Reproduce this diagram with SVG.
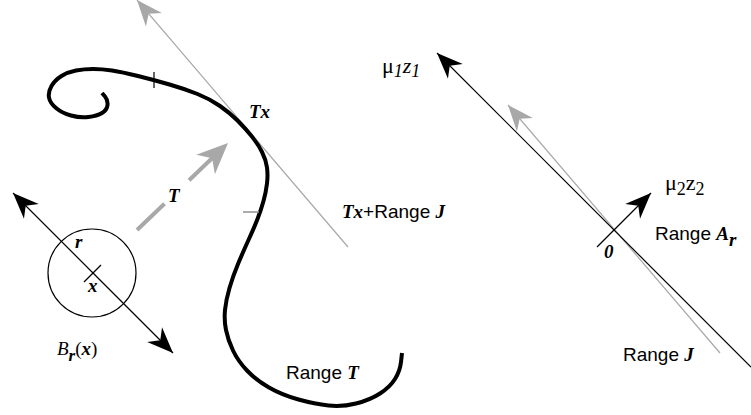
<svg xmlns="http://www.w3.org/2000/svg" width="751" height="415" viewBox="0 0 751 415">
<style>
.bl{stroke:#000;stroke-width:1.2;fill:none}
.gr{stroke:#a8a8a8;stroke-width:1.2;fill:none}
.curve{stroke:#000;stroke-width:4;fill:none;stroke-linejoin:round}
.sans{font-family:"Liberation Sans",Arial,sans-serif;font-size:19px;fill:#000}
.ser{font-family:"Liberation Serif","Times New Roman",serif;font-size:19px;fill:#000}
.mu{font-family:"Liberation Serif","Times New Roman",serif;font-size:22px;fill:#000}
.bi{font-weight:bold;font-style:italic}
.it{font-style:italic}
</style>
<defs>
<marker id="ab" markerUnits="userSpaceOnUse" viewBox="-30 -15 32 30" markerWidth="32" markerHeight="30" refX="0" refY="0" orient="auto" overflow="visible">
<path d="M0,0 L-26,-10.5 L-18,0 L-26,10.5 Z" fill="#000"/>
</marker>
<marker id="ag" markerUnits="userSpaceOnUse" viewBox="-30 -15 32 30" markerWidth="32" markerHeight="30" refX="0" refY="0" orient="auto" overflow="visible">
<path d="M0,0 L-26,-10.5 L-18,0 L-26,10.5 Z" fill="#a8a8a8"/>
</marker>
<marker id="agbig" markerUnits="userSpaceOnUse" viewBox="-40 -20 42 40" markerWidth="42" markerHeight="40" refX="0" refY="0" orient="auto" overflow="visible">
<path d="M0,0 L-31,-13.5 L-22,0 L-31,13.5 Z" fill="#a8a8a8"/>
</marker>
</defs>

<g id="connectors">
<line id="tangent" class="gr" x1="348" y1="247" x2="137" y2="0" marker-end="url(#ag)"/>
<line id="rangeJ" class="gr" x1="720" y1="353" x2="508" y2="105" marker-end="url(#ag)"/>
<line id="mu1" class="bl" x1="751" y1="367" x2="437" y2="53" marker-end="url(#ab)"/>
<line id="mu2" class="bl" x1="597" y1="247" x2="651" y2="193" marker-end="url(#ab)"/>
<line id="ballAxisUp" class="bl" x1="93" y1="273" x2="13" y2="193" marker-end="url(#ab)"/>
<line id="ballAxisDown" class="bl" x1="93" y1="273" x2="173" y2="353" marker-end="url(#ab)"/>
<line id="mapT" x1="137" y1="230" x2="228" y2="143" stroke="#a8a8a8" stroke-width="4" stroke-dasharray="38 34" marker-end="url(#agbig)"/>
</g>

<g id="rangeT">
<path class="curve" d="M102,93 L105,96.5 Q108,100 107.5,105 Q107,110 102,113 Q97,116 88.5,117 Q80,118 71,115.5 Q62,113 56,108 Q50,103 49,97.5 Q48,92 51.5,86 Q55,80 61.5,76 Q68,72 76,70.5 Q84,69 93,69 Q102,69 112,70.5 Q122,72 138,76 Q154,80 169.5,84.5 Q185,89 197.5,94 Q210,99 220,106 Q230,113 237.5,120.5 Q245,128 251.5,136 Q258,144 262,152 Q266,160 267,167.5 Q268,175 267,183.5 Q266,192 263.5,201 Q261,210 257.5,219 Q254,228 248.5,240 Q243,252 238,264 Q233,276 229.5,288 Q226,300 225,310 Q224,320 226,330 Q228,340 233,350.5 Q238,361 247,370.5 Q256,380 269,387.5 Q282,395 298.5,399.5 Q315,404 328.5,405.5 Q342,407 356,403.5 Q370,400 380,393.5 Q390,387 395,379 Q400,371 401,362 L402,353"/>
<line class="bl" x1="154" y1="72" x2="154" y2="88"/>
<line x1="243" y1="212" x2="259" y2="212" stroke="#909090" stroke-width="1.5"/>
<text class="sans" x="286" y="379">Range <tspan class="ser bi">T</tspan></text>
</g>

<g id="Tx">
<text class="ser bi" x="249" y="118">Tx</text>
</g>

<g id="TxRangeJ">
<text class="ser bi" x="342" y="218">Tx<tspan class="sans" font-style="normal" font-weight="normal">+Range </tspan><tspan>J</tspan></text>
</g>

<g id="labelT">
<text class="ser bi" x="168" y="202">T</text>
</g>

<g id="ball">
<circle cx="92" cy="273" r="44" class="bl"/>
<line class="bl" x1="84" y1="282" x2="101" y2="265"/>
<text class="ser bi" x="75" y="248">r</text>
<text class="ser bi" x="88" y="292">x</text>
<text class="ser" x="57" y="355" font-size="20"><tspan class="it">B</tspan><tspan class="bi" dy="6" font-size="17">r</tspan><tspan dy="-6">(</tspan><tspan class="bi">x</tspan>)</text>
</g>

<g id="mu1z1">
<text class="mu" x="382" y="73">μ<tspan class="it" dy="4" font-size="18">1</tspan><tspan class="it" dy="-4">z</tspan><tspan class="it" dy="4" font-size="18">1</tspan></text>
</g>

<g id="origin">
<text class="ser bi" x="604" y="258">0</text>
</g>

<g id="mu2z2">
<text class="mu" x="665" y="190">μ<tspan dy="5" font-size="18">2</tspan><tspan dy="-5">z</tspan><tspan dy="5" font-size="18">2</tspan></text>
</g>

<g id="rangeAr">
<text class="sans" x="655" y="240">Range <tspan class="ser bi">A</tspan><tspan class="ser bi" dy="6" font-size="16">r</tspan></text>
</g>

<g id="rangeJlabel">
<text class="sans" x="623" y="361">Range <tspan class="ser bi">J</tspan></text>
</g>
</svg>
